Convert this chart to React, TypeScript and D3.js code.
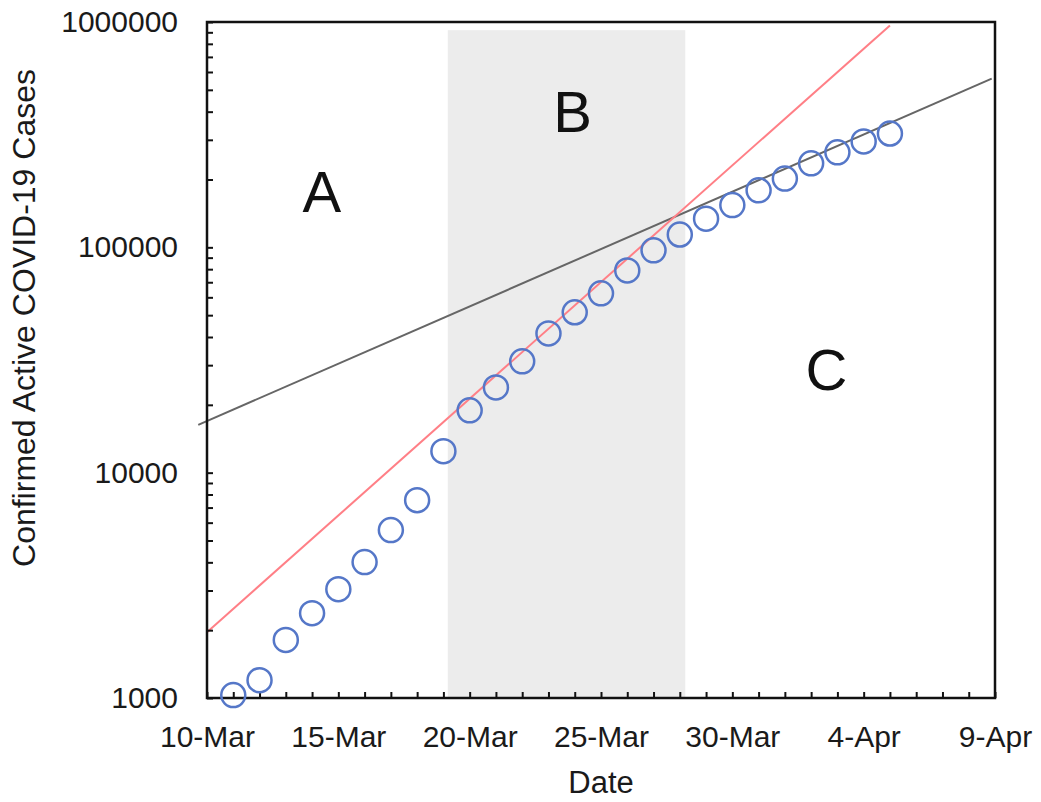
import React from "react";
import * as d3 from "d3";

type Point = { date: Date; value: number };

const day = (m: number, d: number, h = 0) => new Date(2020, m - 1, d, h);

// observed active cases, 11-Mar .. 5-Apr
const caseDates: Date[] = d3.timeDay.range(day(3, 11), day(4, 6));
const caseValues: number[] = [
  1030, 1200, 1810, 2380, 3040, 4010, 5560, 7550, 12450, 18900, 23900, 31200,
  41500, 51500, 62500, 79000, 97000, 114000, 134000, 154000, 179000, 202000,
  236000, 264000, 295000, 320000,
];

// fitted trend lines (endpoints)
const redFit: Point[] = [
  { date: day(3, 10), value: 1960 },
  { date: day(4, 5), value: 966000 },
];
const grayFit: Point[] = [
  { date: day(3, 9, 16), value: 16300 },
  { date: day(4, 8, 21), value: 561000 },
];

// shaded phase B
const phaseB: [Date, Date] = [day(3, 19, 4), day(3, 28, 5)];
const phaseTop = 920000;

const regionLabels = [
  { text: "A", date: day(3, 14, 9), value: 143000 },
  { text: "B", date: day(3, 23, 22), value: 324000 },
  { text: "C", date: day(4, 2, 14), value: 23200 },
];

const xTickDates: Date[] = [
  day(3, 10), day(3, 15), day(3, 20), day(3, 25), day(3, 30), day(4, 4), day(4, 9),
];
const yTickValues: number[] = [1000, 10000, 100000, 1000000];

const FONT = "'Liberation Sans', Arial, sans-serif";

const Chart: React.FC = () => {
  const svgRef = React.useRef<SVGSVGElement>(null);

  const width = 1041;
  const height = 802;
  const margin = { top: 22, right: 46, bottom: 104, left: 207 };
  const innerW = width - margin.left - margin.right;
  const innerH = height - margin.top - margin.bottom;

  React.useEffect(() => {
    const svgEl = d3.select(svgRef.current);
    svgEl.selectAll("*").remove();

    svgEl.append("rect").attr("width", width).attr("height", height).attr("fill", "white");

    const g = svgEl.append("g").attr("transform", `translate(${margin.left},${margin.top})`);

    const xScale = d3.scaleTime().domain([day(3, 10), day(4, 9)]).range([0, innerW]);
    const yScale = d3.scaleLog().domain([1000, 1000000]).range([innerH, 0]);

    // shaded band
    g.append("rect")
      .attr("x", xScale(phaseB[0]))
      .attr("width", xScale(phaseB[1]) - xScale(phaseB[0]))
      .attr("y", yScale(phaseTop))
      .attr("height", innerH - yScale(phaseTop))
      .attr("fill", "#ececec");

    // region letters
    g.selectAll(".region")
      .data(regionLabels)
      .join("text")
      .attr("class", "region")
      .attr("x", (d) => xScale(d.date))
      .attr("y", (d) => yScale(d.value))
      .attr("text-anchor", "middle")
      .attr("font-family", FONT)
      .attr("font-size", 58)
      .attr("fill", "#111")
      .text((d) => d.text);

    const line = d3
      .line<Point>()
      .x((d) => xScale(d.date))
      .y((d) => yScale(d.value));

    g.append("path")
      .attr("d", line(grayFit))
      .attr("fill", "none")
      .attr("stroke", "#666")
      .attr("stroke-width", 2);

    g.append("path")
      .attr("d", line(redFit))
      .attr("fill", "none")
      .attr("stroke", "#ff7f86")
      .attr("stroke-width", 2);

    // axes: ticks inward
    const xMinor = d3
      .axisBottom(xScale)
      .tickValues(d3.timeDay.range(day(3, 10), day(4, 10)))
      .tickSizeInner(-6)
      .tickSizeOuter(0)
      .tickFormat(() => "");
    const xAxisG = g.append("g").attr("transform", `translate(0,${innerH})`).call(xMinor);

    const xLabels = d3
      .axisBottom(xScale)
      .tickValues(xTickDates)
      .tickSize(0)
      .tickPadding(28)
      .tickFormat((d) => d3.timeFormat("%-d-%b")(d as Date));
    const xLabG = g.append("g").attr("transform", `translate(0,${innerH})`).call(xLabels);

    const yMinor = d3
      .axisLeft(yScale)
      .tickValues(yScale.ticks())
      .tickSizeInner(-6)
      .tickSizeOuter(0)
      .tickFormat(() => "");
    const yAxisG = g.append("g").call(yMinor);

    const yLabels = d3
      .axisLeft(yScale)
      .tickValues(yTickValues)
      .tickSize(0)
      .tickPadding(29)
      .tickFormat((d) => String(d));
    const yLabG = g.append("g").call(yLabels);

    [xAxisG, yAxisG].forEach((a) => {
      a.select(".domain").remove();
      a.selectAll("line").attr("stroke", "#111").attr("stroke-width", 2);
    });
    [xLabG, yLabG].forEach((a) => {
      a.select(".domain").remove();
      a.selectAll("text")
        .attr("font-family", FONT)
        .attr("font-size", 30)
        .attr("fill", "#1a1a1a");
    });

    // frame
    g.append("rect")
      .attr("width", innerW)
      .attr("height", innerH)
      .attr("fill", "none")
      .attr("stroke", "#111")
      .attr("stroke-width", 2.5);

    // observed points
    g.selectAll(".pt")
      .data(caseDates.map((d, i) => ({ date: d, value: caseValues[i] })))
      .join("circle")
      .attr("class", "pt")
      .attr("cx", (d) => xScale(d.date))
      .attr("cy", (d) => yScale(d.value))
      .attr("r", 12)
      .attr("fill", "none")
      .attr("stroke", "#5577c8")
      .attr("stroke-width", 2.5);

    // axis titles
    svgEl
      .append("text")
      .attr("x", margin.left + innerW / 2)
      .attr("y", 793)
      .attr("text-anchor", "middle")
      .attr("font-family", FONT)
      .attr("font-size", 31)
      .attr("fill", "#1a1a1a")
      .text("Date");

    svgEl
      .append("text")
      .attr("transform", `translate(35,318) rotate(-90)`)
      .attr("text-anchor", "middle")
      .attr("font-family", FONT)
      .attr("font-size", 32)
      .attr("fill", "#1a1a1a")
      .text("Confirmed Active COVID-19 Cases");
  }, []);

  return (
    <svg
      ref={svgRef}
      width={width}
      height={height}
      style={{ position: "absolute", left: 0, top: 0, display: "block" }}
    />
  );
};

export default function App() {
  return <Chart />;
}
